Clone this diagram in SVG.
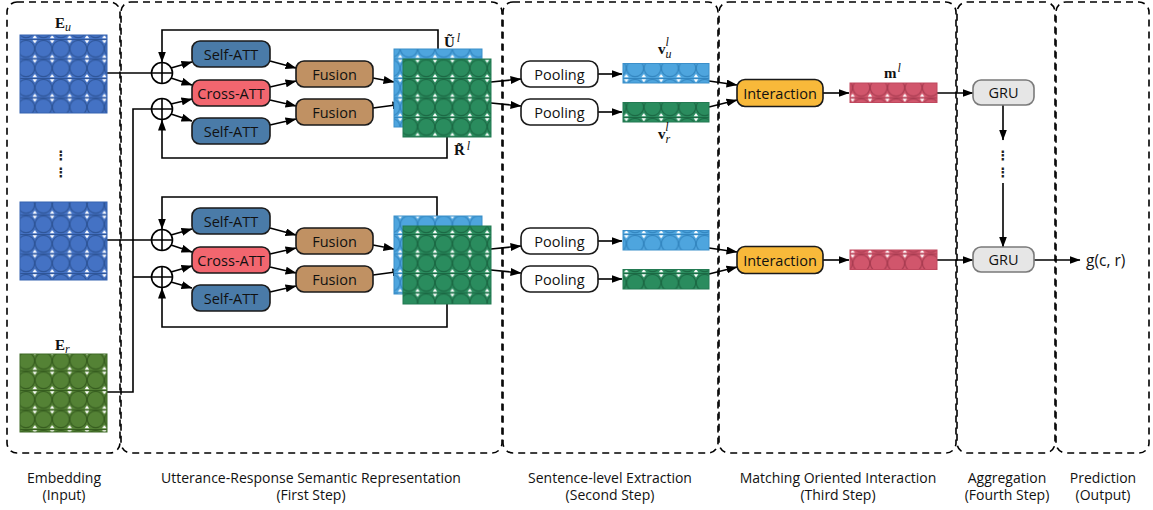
<svg xmlns="http://www.w3.org/2000/svg" width="1153" height="510" viewBox="0 0 1153 510">
<style>
.panel{fill:none;stroke:#000;stroke-width:1.6;stroke-dasharray:7 5}
.box{stroke:#1a1a1a;stroke-width:1.6}
.lbl{font-family:"Open Sans","Noto Sans",sans-serif;font-size:14.5px;fill:#111;text-anchor:middle;dominant-baseline:central}
.sec{font-family:"Open Sans","Noto Sans",sans-serif;font-size:14px;fill:#111;text-anchor:middle}
.math{font-family:"Liberation Serif",serif;font-size:15px;font-weight:bold;fill:#111}
.it{font-style:italic;font-weight:normal}
.conn{fill:none;stroke:#000;stroke-width:1.6}
.plus{fill:#fff;stroke:#000;stroke-width:1.6}
.dots{font-family:"DejaVu Sans",sans-serif;font-size:13px;font-weight:bold;fill:#222;text-anchor:middle}
.tri{fill:#fff}
</style>
<defs>
<marker id="ar" markerUnits="userSpaceOnUse" markerWidth="11" markerHeight="8" refX="10.5" refY="4" orient="auto"><path d="M0,0 L11,4 L0,8 z" fill="#000"/></marker>
<g id="tris"><polygon class="tri" points="0,1.2 2.3,1.2 0,4.3"/><polygon class="tri" points="17.4,1.2 15.1,1.2 17.4,4.3"/><polygon class="tri" points="0,18.8 2.3,18.8 0,15.7"/><polygon class="tri" points="17.4,18.8 15.1,18.8 17.4,15.7"/></g>
<pattern id="pEu" patternUnits="userSpaceOnUse" width="17.4" height="19.5"><rect width="17.4" height="19.5" fill="#4472c4"/><circle cx="8.7" cy="9.75" r="8.4" fill="#4472c4" stroke="#2e5598" stroke-width="1.1"/><use href="#tris"/><line x1="0" y1="0.4" x2="17.4" y2="0.4" stroke="#2e5598" stroke-width="1.2"/></pattern>
<pattern id="pEr" patternUnits="userSpaceOnUse" width="17.4" height="19.5"><rect width="17.4" height="19.5" fill="#548235"/><circle cx="8.7" cy="9.75" r="8.4" fill="#548235" stroke="#365d1f" stroke-width="1.1"/><use href="#tris"/><line x1="0" y1="0.4" x2="17.4" y2="0.4" stroke="#365d1f" stroke-width="1.2"/></pattern>
<pattern id="pU" patternUnits="userSpaceOnUse" width="17.4" height="19.5"><rect width="17.4" height="19.5" fill="#4ea5de"/><circle cx="8.7" cy="9.75" r="8.4" fill="#4ea5de" stroke="#3386c0" stroke-width="1.1"/><use href="#tris"/><line x1="0" y1="0.4" x2="17.4" y2="0.4" stroke="#3386c0" stroke-width="1.2"/></pattern>
<pattern id="pR" patternUnits="userSpaceOnUse" width="17.4" height="19.5"><rect width="17.4" height="19.5" fill="#2a8c5e"/><circle cx="8.7" cy="9.75" r="8.4" fill="#2a8c5e" stroke="#1b6944" stroke-width="1.1"/><use href="#tris"/><line x1="0" y1="0.4" x2="17.4" y2="0.4" stroke="#1b6944" stroke-width="1.2"/></pattern>
<pattern id="pM" patternUnits="userSpaceOnUse" width="17.4" height="19.5"><rect width="17.4" height="19.5" fill="#d1566c"/><circle cx="8.7" cy="9.75" r="8.4" fill="#d1566c" stroke="#a93c51" stroke-width="1.1"/><use href="#tris"/><line x1="0" y1="0.4" x2="17.4" y2="0.4" stroke="#a93c51" stroke-width="1.2"/></pattern>
</defs>
<rect width="1153" height="510" fill="#fff"/>

<g id="panels">
<rect class="panel" x="7" y="2" width="113" height="451" rx="10"/>
<rect class="panel" x="121" y="2" width="381" height="451" rx="10"/>
<rect class="panel" x="503" y="2" width="215" height="451" rx="10"/>
<rect class="panel" x="719" y="2" width="237" height="451" rx="10"/>
<rect class="panel" x="957" y="2" width="98" height="451" rx="10"/>
<rect class="panel" x="1056" y="2" width="93" height="451" rx="10"/>
</g>

<g id="connectors">
<path class="conn" d="M107,73 H151"/>
<path class="conn" d="M107,392 H133 V109 H151"/>
<path class="conn" d="M133,277 H151"/>
<path class="conn" d="M107,240 H151"/>
<path class="conn" marker-end="url(#ar)" d="M171,68 L192,62"/>
<path class="conn" marker-end="url(#ar)" d="M171,78 L192,85"/>
<path class="conn" marker-end="url(#ar)" d="M171,104 L192,99"/>
<path class="conn" marker-end="url(#ar)" d="M171,114 L192,121"/>
<path class="conn" marker-end="url(#ar)" d="M270,61 L296,68"/>
<path class="conn" marker-end="url(#ar)" d="M270,87 L296,81"/>
<path class="conn" marker-end="url(#ar)" d="M270,100 L296,106"/>
<path class="conn" marker-end="url(#ar)" d="M270,125 L296,119"/>
<path class="conn" marker-end="url(#ar)" d="M373,78 L394,82"/>
<path class="conn" marker-end="url(#ar)" d="M373,108 L403,104"/>
<path class="conn" marker-end="url(#ar)" d="M438,49 V30 H162 V62"/>
<path class="conn" marker-end="url(#ar)" d="M447,137 V158 H162 V120"/>
<path class="conn" marker-end="url(#ar)" d="M491,82 L521,79"/>
<path class="conn" marker-end="url(#ar)" d="M491,103 L521,106"/>
<path class="conn" marker-end="url(#ar)" d="M598,74 H622"/>
<path class="conn" marker-end="url(#ar)" d="M598,112 H622"/>
<path class="conn" marker-end="url(#ar)" d="M709,81 L737,85"/>
<path class="conn" marker-end="url(#ar)" d="M709,107 L737,100"/>
<path class="conn" marker-end="url(#ar)" d="M823,93 H849"/>
<path class="conn" marker-end="url(#ar)" d="M937,93 H973"/>
<path class="conn" marker-end="url(#ar)" d="M1003,105 V140"/>
<path class="conn" marker-end="url(#ar)" d="M1003,183 V247"/>
<path class="conn" marker-end="url(#ar)" d="M1034,260 H1080"/>

<path class="conn" marker-end="url(#ar)" d="M171,235 L192,229"/>
<path class="conn" marker-end="url(#ar)" d="M171,245 L192,252"/>
<path class="conn" marker-end="url(#ar)" d="M171,272 L192,266"/>
<path class="conn" marker-end="url(#ar)" d="M171,282 L192,288"/>
<path class="conn" marker-end="url(#ar)" d="M270,228 L296,235"/>
<path class="conn" marker-end="url(#ar)" d="M270,254 L296,248"/>
<path class="conn" marker-end="url(#ar)" d="M270,267 L296,273"/>
<path class="conn" marker-end="url(#ar)" d="M270,292 L296,286"/>
<path class="conn" marker-end="url(#ar)" d="M373,245 L394,249"/>
<path class="conn" marker-end="url(#ar)" d="M373,275 L403,271"/>
<path class="conn" marker-end="url(#ar)" d="M437,216 V197 H162 V229"/>
<path class="conn" marker-end="url(#ar)" d="M447,303 V327 H162 V288"/>
<path class="conn" marker-end="url(#ar)" d="M491,249 L521,246"/>
<path class="conn" marker-end="url(#ar)" d="M491,270 L521,273"/>
<path class="conn" marker-end="url(#ar)" d="M598,241 H622"/>
<path class="conn" marker-end="url(#ar)" d="M598,279 H622"/>
<path class="conn" marker-end="url(#ar)" d="M709,248 L737,252"/>
<path class="conn" marker-end="url(#ar)" d="M709,274 L737,267"/>
<path class="conn" marker-end="url(#ar)" d="M823,260 H849"/>
<path class="conn" marker-end="url(#ar)" d="M937,260 H973"/>
</g>

<g id="emb-u">
<rect x="20" y="35" width="87" height="78" fill="url(#pEu)" stroke="#3563b0" stroke-width="1"/>
<text class="math" x="55" y="28">E<tspan class="it" font-size="12" dy="3">u</tspan></text>
</g>
<g id="emb-dots"><text class="dots" x="61" y="160">⋮</text><text class="dots" x="61" y="177">⋮</text></g>
<g id="emb-mid">
<rect x="20" y="202" width="87" height="78" fill="url(#pEu)" stroke="#3563b0" stroke-width="1"/>
</g>
<g id="emb-r">
<rect x="20" y="354" width="87" height="78" fill="url(#pEr)" stroke="#3f6a27" stroke-width="1"/>
<text class="math" x="55" y="350">E<tspan class="it" font-size="12" dy="3">r</tspan></text>
</g>

<g id="plus1"><circle class="plus" cx="162" cy="73" r="10.5"/><path class="conn" d="M151.5,73 H172.5 M162,62.5 V83.5"/></g>
<g id="plus2"><circle class="plus" cx="162" cy="109" r="10.5"/><path class="conn" d="M151.5,109 H172.5 M162,98.5 V119.5"/></g>
<g id="plus3"><circle class="plus" cx="162" cy="240" r="10.5"/><path class="conn" d="M151.5,240 H172.5 M162,229.5 V250.5"/></g>
<g id="plus4"><circle class="plus" cx="162" cy="277" r="10.5"/><path class="conn" d="M151.5,277 H172.5 M162,266.5 V287.5"/></g>

<g id="selfatt1"><rect class="box" x="192" y="41" width="78" height="26" rx="8" fill="#4a7ba8"/><text class="lbl" x="231" y="54">Self-ATT</text></g>
<g id="crossatt1"><rect class="box" x="192" y="80" width="78" height="26" rx="8" fill="#f2666f"/><text class="lbl" x="231" y="93">Cross-ATT</text></g>
<g id="selfatt2"><rect class="box" x="192" y="118" width="78" height="26" rx="8" fill="#4a7ba8"/><text class="lbl" x="231" y="131">Self-ATT</text></g>
<g id="fusion1"><rect class="box" x="296" y="61" width="77" height="26" rx="8" fill="#c09163"/><text class="lbl" x="334.5" y="74">Fusion</text></g>
<g id="fusion2"><rect class="box" x="296" y="99" width="77" height="26" rx="8" fill="#c09163"/><text class="lbl" x="334.5" y="112">Fusion</text></g>

<g id="selfatt3"><rect class="box" x="192" y="208" width="78" height="26" rx="8" fill="#4a7ba8"/><text class="lbl" x="231" y="221">Self-ATT</text></g>
<g id="crossatt2"><rect class="box" x="192" y="247" width="78" height="26" rx="8" fill="#f2666f"/><text class="lbl" x="231" y="260">Cross-ATT</text></g>
<g id="selfatt4"><rect class="box" x="192" y="285" width="78" height="26" rx="8" fill="#4a7ba8"/><text class="lbl" x="231" y="298">Self-ATT</text></g>
<g id="fusion3"><rect class="box" x="296" y="228" width="77" height="26" rx="8" fill="#c09163"/><text class="lbl" x="334.5" y="241">Fusion</text></g>
<g id="fusion4"><rect class="box" x="296" y="266" width="77" height="26" rx="8" fill="#c09163"/><text class="lbl" x="334.5" y="279">Fusion</text></g>

<g id="repr1">
<rect x="394" y="49" width="88" height="78" fill="url(#pU)" stroke="#3b8fca" stroke-width="1"/>
<rect x="403" y="59" width="88" height="78" fill="url(#pR)" stroke="#237a52" stroke-width="1"/>
<text class="math" x="444" y="47">Ũ<tspan class="it" font-size="12" dy="-5" dx="2">l</tspan></text>
<text class="math" x="454" y="155">R̃<tspan class="it" font-size="12" dy="-5" dx="2">l</tspan></text>
</g>
<g id="repr2">
<rect x="394" y="216" width="88" height="78" fill="url(#pU)" stroke="#3b8fca" stroke-width="1"/>
<rect x="403" y="226" width="88" height="78" fill="url(#pR)" stroke="#237a52" stroke-width="1"/>
</g>

<g id="pool1"><rect class="box" x="521" y="61" width="77" height="26" rx="9" fill="#fff"/><text class="lbl" x="559.5" y="74">Pooling</text></g>
<g id="pool2"><rect class="box" x="521" y="99" width="77" height="26" rx="9" fill="#fff"/><text class="lbl" x="559.5" y="112">Pooling</text></g>
<g id="pool3"><rect class="box" x="521" y="228" width="77" height="26" rx="9" fill="#fff"/><text class="lbl" x="559.5" y="241">Pooling</text></g>
<g id="pool4"><rect class="box" x="521" y="266" width="77" height="26" rx="9" fill="#fff"/><text class="lbl" x="559.5" y="279">Pooling</text></g>

<g id="vu1"><rect x="623" y="63.5" width="86" height="19.5" fill="url(#pU)" stroke="#3b8fca" stroke-width="1"/>
<text class="math" x="658" y="54">v<tspan class="it" font-size="12" dy="4">u</tspan><tspan class="it" font-size="12" dx="-6" dy="-12">l</tspan></text></g>
<g id="vr1"><rect x="623" y="102.5" width="86" height="19.5" fill="url(#pR)" stroke="#237a52" stroke-width="1"/>
<text class="math" x="658" y="139">v<tspan class="it" font-size="12" dy="4">r</tspan><tspan class="it" font-size="12" dx="-5" dy="-12">l</tspan></text></g>
<g id="vu2"><rect x="623" y="230.5" width="86" height="19.5" fill="url(#pU)" stroke="#3b8fca" stroke-width="1"/></g>
<g id="vr2"><rect x="623" y="269.5" width="86" height="19.5" fill="url(#pR)" stroke="#237a52" stroke-width="1"/></g>

<g id="inter1"><rect class="box" x="737" y="79.5" width="86" height="27" rx="8" fill="#f8b93a"/><text class="lbl" x="780" y="93">Interaction</text></g>
<g id="inter2"><rect class="box" x="737" y="246.5" width="86" height="27" rx="8" fill="#f8b93a"/><text class="lbl" x="780" y="260">Interaction</text></g>

<g id="m1"><rect x="850" y="83" width="87" height="19.5" fill="url(#pM)" stroke="#c0485e" stroke-width="1"/>
<text class="math" x="884" y="78">m<tspan class="it" font-size="12" dy="-6" dx="1">l</tspan></text></g>
<g id="m2"><rect x="850" y="250" width="87" height="19.5" fill="url(#pM)" stroke="#c0485e" stroke-width="1"/></g>

<g id="gru1"><rect x="973" y="80" width="61" height="25" rx="8" fill="#e6e6e6" stroke="#7a7a7a" stroke-width="1.6"/><text class="lbl" x="1003.5" y="92.5">GRU</text></g>
<g id="gru-dots"><text class="dots" x="1003" y="160">⋮</text><text class="dots" x="1003" y="177">⋮</text></g>
<g id="gru2"><rect x="973" y="247" width="61" height="25" rx="8" fill="#e6e6e6" stroke="#7a7a7a" stroke-width="1.6"/><text class="lbl" x="1003.5" y="259.5">GRU</text></g>
<g id="output"><text class="lbl" x="1086" y="260" style="text-anchor:start;font-size:15.5px">g(c, r)</text></g>

<g id="sections">
<text class="sec" x="64" y="483">Embedding</text><text class="sec" x="64" y="500">(Input)</text>
<text class="sec" x="311" y="483">Utterance-Response Semantic Representation</text><text class="sec" x="311" y="500">(First Step)</text>
<text class="sec" x="610" y="483">Sentence-level Extraction</text><text class="sec" x="610" y="500">(Second Step)</text>
<text class="sec" x="838" y="483">Matching Oriented Interaction</text><text class="sec" x="838" y="500">(Third Step)</text>
<text class="sec" x="1007" y="483">Aggregation</text><text class="sec" x="1007" y="500">(Fourth Step)</text>
<text class="sec" x="1103" y="483">Prediction</text><text class="sec" x="1103" y="500">(Output)</text>
</g>
</svg>
